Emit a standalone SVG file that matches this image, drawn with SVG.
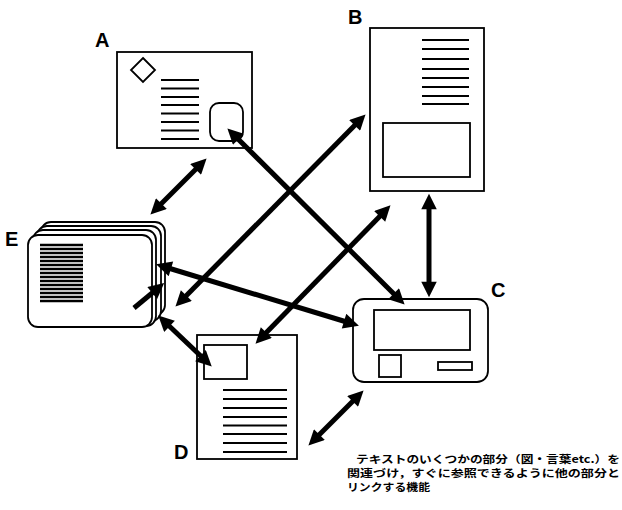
<svg xmlns="http://www.w3.org/2000/svg" width="622" height="510" viewBox="0 0 622 510">
<style>
.box{fill:#fff;stroke:#000;stroke-width:1.8}
.ln{stroke:#000;stroke-width:2}
.hl{stroke:#000;stroke-width:2.4}
.lbl{font-family:"Liberation Sans",Arial,sans-serif;font-size:20px;font-weight:bold;fill:#000}
.jp{font-family:"Noto Sans CJK JP","Noto Sans",sans-serif;font-size:10.5px;font-weight:bold;fill:#000}
.arr{stroke:#000;stroke-width:5;fill:none;marker-end:url(#ah)}
.arr2{stroke:#000;stroke-width:5;fill:none;marker-start:url(#ah);marker-end:url(#ah)}
</style>
<defs>
<marker id="ah" viewBox="0 0 10 10" refX="4" refY="5" markerWidth="3.3" markerHeight="3.1" orient="auto-start-reverse">
<path d="M0,0 L10,5 L0,10 z" fill="#000"/>
</marker>
</defs>
<rect width="622" height="510" fill="#fff"/>

<g id="A">
<text class="lbl" x="95" y="47">A</text>
<rect class="box" x="117" y="52" width="135" height="96"/>
<path class="box" d="M143,58 L155,70 L143,82 L131,70 Z"/>
<g class="ln">
<line x1="161" y1="80" x2="199" y2="80"/>
<line x1="161" y1="88.5" x2="199" y2="88.5"/>
<line x1="161" y1="97" x2="199" y2="97"/>
<line x1="161" y1="105" x2="199" y2="105"/>
<line x1="161" y1="113.5" x2="199" y2="113.5"/>
<line x1="161" y1="122" x2="199" y2="122"/>
<line x1="161" y1="130.5" x2="199" y2="130.5"/>
<line x1="161" y1="139" x2="199" y2="139"/>
</g>
<rect class="box" x="210" y="103" width="33" height="38" rx="9"/>
</g>

<g id="B">
<text class="lbl" x="348" y="24">B</text>
<rect class="box" x="370" y="28" width="114" height="163"/>
<g class="ln">
<line x1="422" y1="40" x2="469" y2="40"/>
<line x1="422" y1="49" x2="469" y2="49"/>
<line x1="422" y1="59" x2="469" y2="59"/>
<line x1="422" y1="69" x2="469" y2="69"/>
<line x1="422" y1="78" x2="469" y2="78"/>
<line x1="422" y1="87" x2="469" y2="87"/>
<line x1="422" y1="96" x2="469" y2="96"/>
<line x1="422" y1="104" x2="469" y2="104"/>
</g>
<rect class="box" x="383" y="123" width="87" height="54"/>
</g>

<g id="C">
<text class="lbl" x="491" y="297">C</text>
<rect class="box" x="353" y="299" width="135" height="83" rx="11"/>
<rect class="box" x="374" y="310" width="96" height="40"/>
<rect class="box" x="379" y="355" width="22" height="22"/>
<rect class="box" x="438" y="362" width="34" height="8"/>
</g>

<g id="D">
<text class="lbl" x="174" y="459">D</text>
<rect class="box" x="197" y="335" width="100" height="124"/>
<rect class="box" x="204" y="345" width="43" height="34"/>
<g class="ln">
<line x1="223" y1="390" x2="287" y2="390"/>
<line x1="223" y1="399" x2="287" y2="399"/>
<line x1="223" y1="408" x2="287" y2="408"/>
<line x1="223" y1="417" x2="287" y2="417"/>
<line x1="223" y1="425.5" x2="287" y2="425.5"/>
<line x1="223" y1="434" x2="287" y2="434"/>
<line x1="223" y1="443" x2="287" y2="443"/>
<line x1="223" y1="452" x2="287" y2="452"/>
</g>
</g>

<g id="E">
<text class="lbl" x="5" y="246">E</text>
<rect class="box" x="41" y="222" width="124" height="93" rx="10"/>
<rect class="box" x="37" y="226" width="124" height="95" rx="10"/>
<rect class="box" x="33" y="230" width="123" height="96" rx="10"/>
<rect class="box" x="28" y="235" width="124" height="92" rx="10"/>
<g class="hl">
<line x1="40" y1="245" x2="83" y2="245"/>
<line x1="40" y1="249" x2="83" y2="249"/>
<line x1="40" y1="253" x2="83" y2="253"/>
<line x1="40" y1="257" x2="83" y2="257"/>
<line x1="40" y1="261" x2="83" y2="261"/>
<line x1="40" y1="265" x2="83" y2="265"/>
<line x1="40" y1="269" x2="83" y2="269"/>
<line x1="40" y1="273" x2="83" y2="273"/>
<line x1="40" y1="277" x2="83" y2="277"/>
<line x1="40" y1="281" x2="83" y2="281"/>
<line x1="40" y1="285" x2="83" y2="285"/>
<line x1="40" y1="289" x2="83" y2="289"/>
<line x1="40" y1="293" x2="83" y2="293"/>
<line x1="40" y1="297" x2="83" y2="297"/>
<line x1="40" y1="301" x2="83" y2="301"/>
</g>
</g>

<g id="connectors">
<line class="arr2" x1="200" y1="165" x2="157" y2="208"/>
<line class="arr2" x1="234" y1="135" x2="398" y2="298"/>
<line class="arr2" x1="182" y1="300" x2="359" y2="121"/>
<line class="arr2" x1="165" y1="267" x2="350" y2="323"/>
<line class="arr2" x1="262" y1="337" x2="384" y2="212"/>
<line class="arr2" x1="429" y1="203" x2="429" y2="288"/>
<line class="arr2" x1="315" y1="439" x2="357" y2="397"/>
<line class="arr2" x1="165" y1="322" x2="205" y2="360"/>
<line class="arr" x1="134" y1="308" x2="157" y2="289"/>
</g>

<g id="caption">
<text class="jp" x="356" y="463" textLength="264" lengthAdjust="spacingAndGlyphs">テキストのいくつかの部分（図・言葉etc.）を</text>
<text class="jp" x="347" y="477" textLength="273" lengthAdjust="spacingAndGlyphs">関連づけ，すぐに参照できるように他の部分と</text>
<text class="jp" x="347" y="491" textLength="83" lengthAdjust="spacingAndGlyphs">リンクする機能</text>
</g>
</svg>
